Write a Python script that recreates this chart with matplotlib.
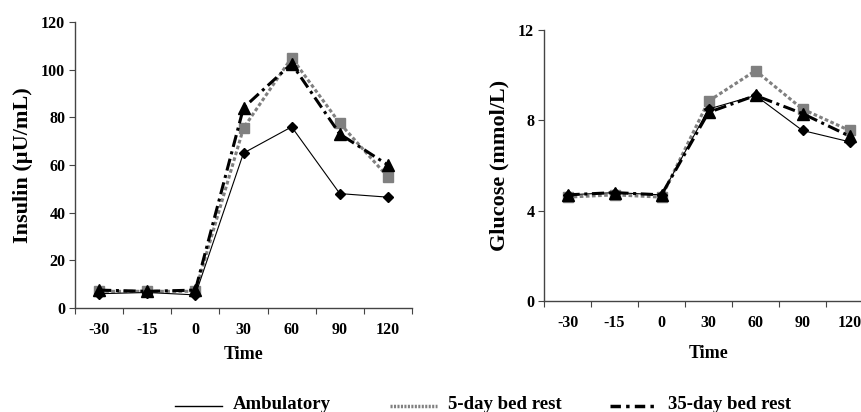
import matplotlib
matplotlib.use("Agg")
import matplotlib.pyplot as plt
from matplotlib.lines import Line2D
import numpy as np

plt.rcParams['font.family'] = ['Liberation Serif', 'DejaVu Serif']
plt.rcParams['font.weight'] = 'bold'

times = ['-30', '-15', '0', '30', '60', '90', '120']

insulin_amb = [6, 6.5, 5.5, 65, 76, 48, 46.5]
insulin_5d = [7, 7, 7, 75.5, 105, 77.5, 55]
insulin_35d = [7.5, 7, 7.5, 84, 102.5, 73, 60]

glucose_amb = [4.7, 4.8, 4.7, 8.5, 9.1, 7.55, 7.05]
glucose_5d = [4.6, 4.7, 4.6, 8.85, 10.2, 8.5, 7.55]
glucose_35d = [4.7, 4.8, 4.7, 8.35, 9.1, 8.3, 7.3]

labels = ['Ambulatory', '5-day bed rest', '35-day bed rest']

W, H = 861, 412
fig = plt.figure(figsize=(W / 100, H / 100), dpi=100)
# axes boxes in pixel units: left, top, right, bottom
ax1 = fig.add_axes([75 / W, 1 - 308 / H, (412 - 75) / W, (308 - 22) / H])
ax2 = fig.add_axes([544 / W, 1 - 301 / H, (873 - 544) / W, (301 - 30) / H])

x = np.arange(len(times)) + 0.5


def draw(ax, amb, d5, d35, ylim, yticks, ylabel, xpad):
    ax.plot(x, amb, color='black', lw=0.8, marker='D', ms=5.5, zorder=3)
    ax.plot(x, d5, color='#808080', lw=2.2, ls=(0, (1.2, 0.8)), marker='s',
            ms=7, zorder=2)
    ax.plot(x, d35, color='black', lw=2.2, ls=(0, (4, 1.5, 1, 1.5)),
            marker='^', ms=8, zorder=4)
    ax.set_xlim(0, len(times))
    ax.set_ylim(*ylim)
    ax.set_xticks(np.arange(len(times) + 1))
    ax.set_xticklabels([])
    ax.set_xticks(x, minor=True)
    ax.set_xticklabels(times, minor=True)
    ax.tick_params(axis='x', which='minor', length=0, pad=10, labelsize=11.5)
    ax.tick_params(axis='x', which='major', length=4, direction='out',
                   color='#444444')
    ax.set_yticks(yticks)
    ax.tick_params(axis='y', length=4, direction='out', labelsize=11.5,
                   color='#444444', pad=3)
    for s in ['top', 'right']:
        ax.spines[s].set_visible(False)
    for s in ['left', 'bottom']:
        ax.spines[s].set_color('#444444')
        ax.spines[s].set_linewidth(1.0)
    ax.set_ylabel(ylabel, fontsize=16, fontweight='bold', labelpad=6)
    ax.set_xlabel('Time', fontsize=13, fontweight='bold', labelpad=xpad)


draw(ax1, insulin_amb, insulin_5d, insulin_35d, (0, 120),
     [0, 20, 40, 60, 80, 100, 120], 'Insulin (\u00b5U/mL)', 6)
draw(ax2, glucose_amb, glucose_5d, glucose_35d, (0, 12),
     [0, 4, 8, 12], 'Glucose (mmol/L)', 10)

# legend along the bottom
ly = 1 - 406 / H
ty = 1 - 409 / H
styles = [
    dict(color='black', lw=1.0, ls='-'),
    dict(color='#808080', lw=2.5, ls=(0, (0.6, 0.4))),
    dict(color='black', lw=2.5, ls=(0, (3, 1.5, 1, 1.5))),
]
starts = [175, 390, 610]
for st, lab, sty in zip(starts, labels, styles):
    fig.add_artist(Line2D([st / W, (st + 47) / W], [ly, ly],
                          transform=fig.transFigure, **sty))
    fig.text((st + 58) / W, ty, lab, fontsize=13.5, fontweight='bold',
             va='baseline', ha='left')

fig.savefig('out.png', dpi=100)
